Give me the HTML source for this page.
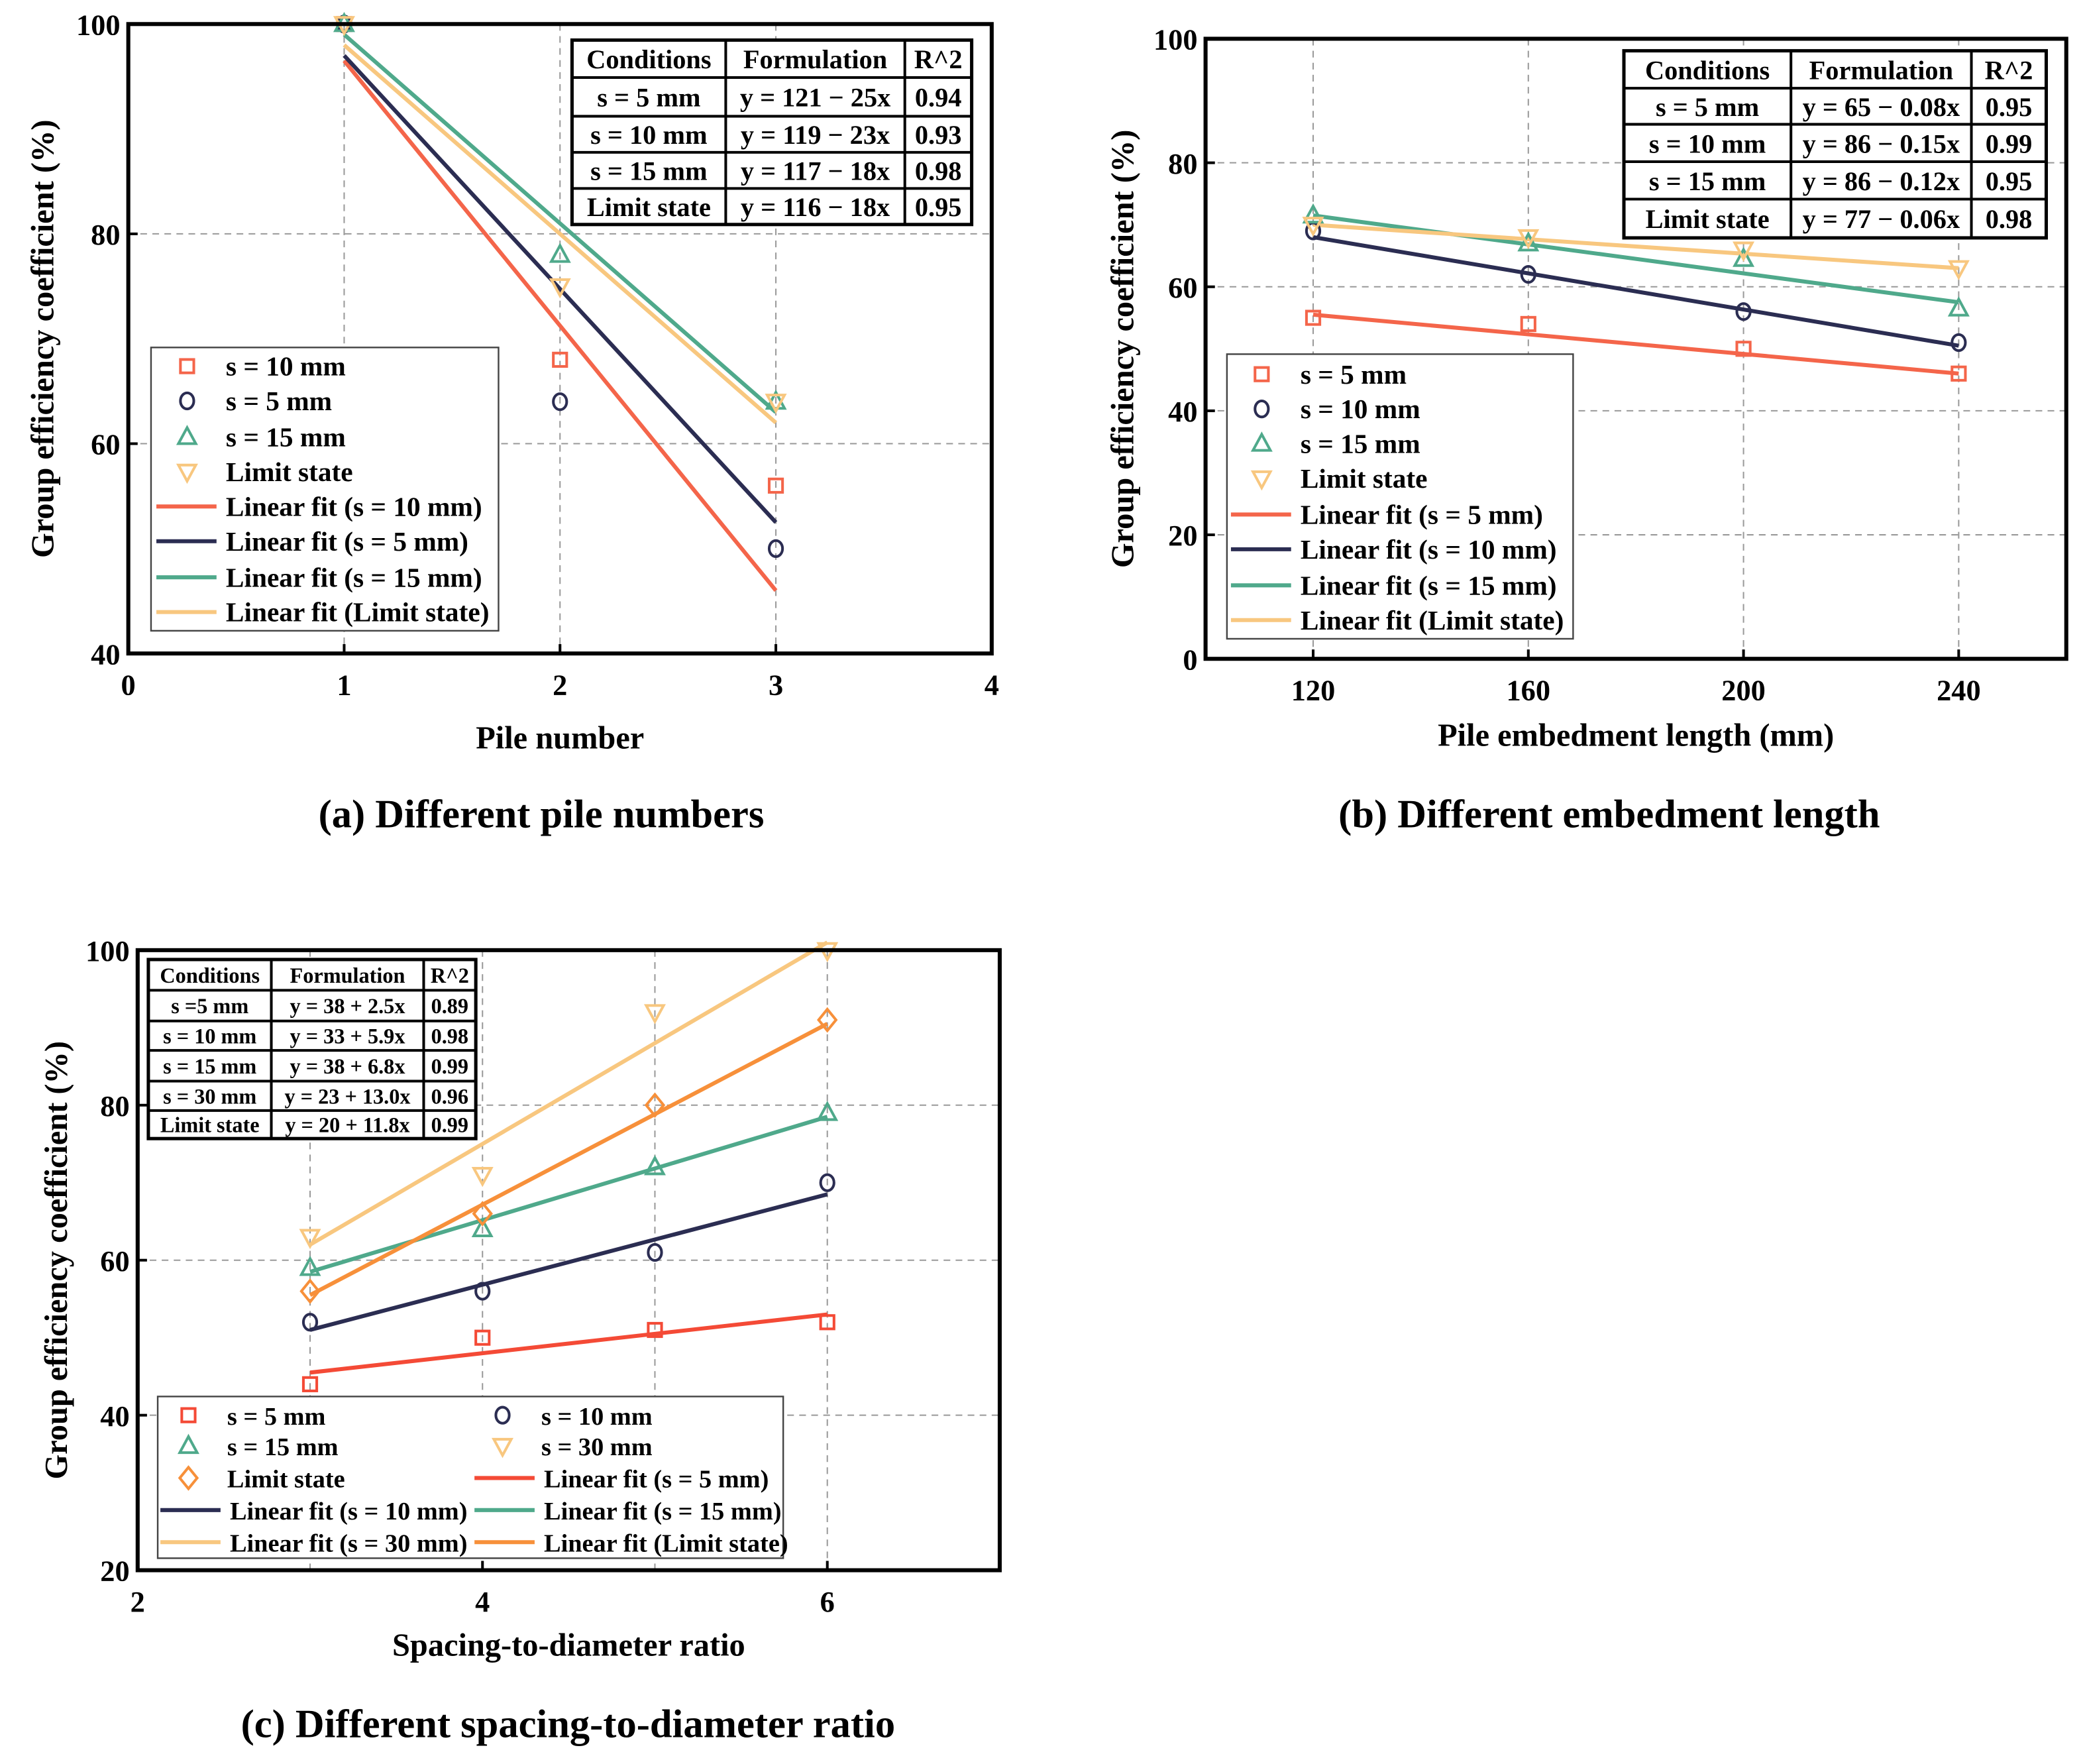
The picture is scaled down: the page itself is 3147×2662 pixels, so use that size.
<!DOCTYPE html>
<html><head><meta charset="utf-8"><style>
html,body{margin:0;padding:0;background:#fff}
svg{display:block}
text{font-family:"Liberation Serif",serif;font-weight:bold;fill:#000}
</style></head><body>
<svg id="fig" width="3147" height="2662" viewBox="0 0 1560 1320" preserveAspectRatio="none" xmlns="http://www.w3.org/2000/svg"></svg>
<script>
// ---------- Panel (a) data ----------
const aX = [1, 2, 3];
const aS10 = [100, 68, 56];
const aS5 = [100, 64, 50];
const aS15 = [100, 78, 64];
const aLim = [100, 75, 64];
const aFitS10 = [96.5, 46];
const aFitS5 = [97, 52.5];
const aFitS15 = [99, 63];
const aFitLim = [98, 62];
const aXTicks = [0, 1, 2, 3, 4];
const aYTicks = [40, 60, 80, 100];
// ---------- Panel (b) data ----------
const bX = [120, 160, 200, 240];
const bS5 = [55, 54, 50, 46];
const bS10 = [69, 62, 56, 51];
const bS15 = [71.5, 67, 64.5, 56.5];
const bLim = [70, 68, 66, 63];
const bFitS5 = [55.5, 46];
const bFitS10 = [68, 50.5];
const bFitS15 = [71.5, 57.5];
const bFitLim = [70, 63];
const bXTicks = [120, 160, 200, 240];
const bYTicks = [0, 20, 40, 60, 80, 100];
// ---------- Panel (c) data ----------
const cX = [3, 4, 5, 6];
const cS5 = [44, 50, 51, 52];
const cS10 = [52, 56, 61, 70];
const cS15 = [59, 64, 72, 79];
const cS30 = [63, 71, 92, 100];
const cLim = [56, 66, 80, 91];
const cFitS5 = [45.5, 53];
const cFitS10 = [51, 68.5];
const cFitS15 = [58.5, 78.5];
const cFitS30 = [62, 101];
const cFitLim = [55.5, 90.5];
const cXTicks = [2, 4, 6];
const cYTicks = [20, 40, 60, 80, 100];

const RED='#f4654a', NAVY='#2b2d52', GREEN='#4fa98b', YEL='#f8c77f', ORG='#f7903a';
const NS='http://www.w3.org/2000/svg';
const svg=document.getElementById('fig');

function mk(parent, tag, attrs, name){
  const el=document.createElementNS(NS,tag);
  for(const k in attrs) el.setAttribute(k,attrs[k]);
  
  
  parent.appendChild(el);
  return el;
}
function txt(parent,x,y,s,size,name,anchor,extra){
  const t=mk(parent,'text',Object.assign({x:x,y:y,'font-size':size,'text-anchor':anchor||'start'},extra||{}),name);
  t.textContent=s; return t;
}
function marker(g,type,x,y,color,name){
  const a={fill:'none',stroke:color,'stroke-width':2};
  if(type==='sq') return mk(g,'rect',Object.assign({x:x-5,y:y-5,width:10,height:10},a),name);
  if(type==='ci') return mk(g,'ellipse',Object.assign({cx:x,cy:y,rx:5,ry:6},a),name);
  if(type==='tu') return mk(g,'polygon',Object.assign({points:`${x},${y-7} ${x-6.5},${y+5} ${x+6.5},${y+5}`},a),name);
  if(type==='td') return mk(g,'polygon',Object.assign({points:`${x},${y+7} ${x-6.5},${y-5} ${x+6.5},${y-5}`},a),name);
  if(type==='di') return mk(g,'polygon',Object.assign({points:`${x},${y-8} ${x+6.5},${y} ${x},${y+8} ${x-6.5},${y}`},a),name);
}

function panel(cfg){
  const g=mk(svg,'g',{},cfg.id);
  const {x0,x1,y0,y1}=cfg.box;
  const sx=v=>x0+(v-cfg.xd[0])/(cfg.xd[1]-cfg.xd[0])*(x1-x0);
  const sy=v=>y1-(v-cfg.yd[0])/(cfg.yd[1]-cfg.yd[0])*(y1-y0);
  cfg.xGrid.forEach(v=>mk(g,'line',{x1:sx(v),x2:sx(v),y1:y0,y2:y1,stroke:'#999','stroke-width':1,'stroke-dasharray':'5,4'},'x-gridline'));
  cfg.yGrid.forEach(v=>mk(g,'line',{x1:x0,x2:x1,y1:sy(v),y2:sy(v),stroke:'#999','stroke-width':1,'stroke-dasharray':'5,4'},'y-gridline'));
  cfg.fits.forEach(f=>mk(g,'line',{x1:sx(f.xs[0]),x2:sx(f.xs[1]),y1:sy(f.v[0]),y2:sy(f.v[1]),stroke:f.c,'stroke-width':3},f.name));
  cfg.series.forEach(s=>s.v.forEach((v,i)=>marker(g,s.m,sx(cfg.x[i]),sy(v),s.c,s.name+'-point')));
  mk(g,'rect',{x:x0,y:y0,width:x1-x0,height:y1-y0,fill:'none',stroke:'#000','stroke-width':3},'plot-frame');
  cfg.xt.forEach(v=>{mk(g,'line',{x1:sx(v),x2:sx(v),y1:y1,y2:y1-7,stroke:'#000','stroke-width':2},'x-tick');
    txt(g,sx(v),y1+31,String(v),22,'x-tick-label','middle');});
  cfg.yt.forEach(v=>{mk(g,'line',{x1:x0,x2:x0+7,y1:sy(v),y2:sy(v),stroke:'#000','stroke-width':2},'y-tick');
    txt(g,x0-6,sy(v)+8,String(v),22,'y-tick-label','end');});
  txt(g,(x0+x1)/2,cfg.xlY,cfg.xl,24,'x-axis-title','middle');
  txt(g,cfg.ylX,(y0+y1)/2,'Group efficiency coefficient (%)',24,'y-axis-title','middle',{transform:`rotate(-90 ${cfg.ylX} ${(y0+y1)/2})`});
  txt(g,cfg.titleX,cfg.titleY,cfg.title,30,'panel-title','middle');
  const T=cfg.table;
  mk(g,'rect',{x:T.cols[0],y:T.rows[0],width:T.cols[T.cols.length-1]-T.cols[0],height:T.rows[T.rows.length-1]-T.rows[0],fill:'#fff',stroke:'#000','stroke-width':2.5},'fit-table');
  T.cols.slice(1,-1).forEach(c=>mk(g,'line',{x1:c,x2:c,y1:T.rows[0],y2:T.rows[T.rows.length-1],stroke:'#000','stroke-width':2},'table-col-line'));
  T.rows.slice(1,-1).forEach(r=>mk(g,'line',{x1:T.cols[0],x2:T.cols[T.cols.length-1],y1:r,y2:r,stroke:'#000','stroke-width':2},'table-row-line'));
  T.cells.forEach((row,ri)=>row.forEach((s,ci)=>txt(g,(T.cols[ci]+T.cols[ci+1])/2,(T.rows[ri]+T.rows[ri+1])/2+T.fs*0.36,s,T.fs,'table-cell','middle')));
  const L=cfg.legend;
  mk(g,'rect',{x:L.x,y:L.y,width:L.w,height:L.h,fill:'#fff',stroke:'#444','stroke-width':1.2},'legend-box');
  L.items.forEach(it=>{
    if(it.m) marker(g,it.m,it.x+23,it.y,it.c,'legend-marker');
    else mk(g,'line',{x1:it.x,x2:it.x+45,y1:it.y,y2:it.y,stroke:it.c,'stroke-width':3},'legend-line');
    txt(g,it.x+52,it.y+7,it.t,L.fs,'legend-entry');
  });
}

panel({id:'panel-a',box:{x0:96,x1:742,y0:18,y1:489},xd:[0,4],yd:[40,100],x:aX,
  xGrid:[1,2,3],yGrid:[60,80],xt:aXTicks,yt:aYTicks,xl:'Pile number',xlY:560,ylX:40,
  title:'(a) Different pile numbers',titleX:405,titleY:619,
  fits:[{xs:[1,3],v:aFitS10,c:RED,name:'fit-s10'},{xs:[1,3],v:aFitS5,c:NAVY,name:'fit-s5'},{xs:[1,3],v:aFitS15,c:GREEN,name:'fit-s15'},{xs:[1,3],v:aFitLim,c:YEL,name:'fit-limit'}],
  series:[{v:aS10,m:'sq',c:RED,name:'s10'},{v:aS5,m:'ci',c:NAVY,name:'s5'},{v:aS15,m:'tu',c:GREEN,name:'s15'},{v:aLim,m:'td',c:YEL,name:'limit'}],
  table:{cols:[428,543,677,727],rows:[30,58,87,114,141,168],fs:20,cells:[['Conditions','Formulation','R^2'],['s = 5 mm','y = 121 − 25x','0.94'],['s = 10 mm','y = 119 − 23x','0.93'],['s = 15 mm','y = 117 − 18x','0.98'],['Limit state','y = 116 − 18x','0.95']]},
  legend:{x:113,y:260,w:260,h:212,fs:20.5,items:[
    {x:117,y:274,m:'sq',c:RED,t:'s = 10 mm'},{x:117,y:300,m:'ci',c:NAVY,t:'s = 5 mm'},{x:117,y:327,m:'tu',c:GREEN,t:'s = 15 mm'},{x:117,y:353,m:'td',c:YEL,t:'Limit state'},
    {x:117,y:379,c:RED,t:'Linear fit (s = 10 mm)'},{x:117,y:405,c:NAVY,t:'Linear fit (s = 5 mm)'},{x:117,y:432,c:GREEN,t:'Linear fit (s = 15 mm)'},{x:117,y:458,c:YEL,t:'Linear fit (Limit state)'}]}
});
panel({id:'panel-b',box:{x0:902,x1:1546,y0:29,y1:493},xd:[100,260],yd:[0,100],x:bX,
  xGrid:[120,160,200,240],yGrid:[20,40,60,80],xt:bXTicks,yt:bYTicks,xl:'Pile embedment length (mm)',xlY:558,ylX:848,
  title:'(b) Different embedment length',titleX:1204,titleY:619,
  fits:[{xs:[120,240],v:bFitS5,c:RED,name:'fit-s5'},{xs:[120,240],v:bFitS10,c:NAVY,name:'fit-s10'},{xs:[120,240],v:bFitS15,c:GREEN,name:'fit-s15'},{xs:[120,240],v:bFitLim,c:YEL,name:'fit-limit'}],
  series:[{v:bS5,m:'sq',c:RED,name:'s5'},{v:bS10,m:'ci',c:NAVY,name:'s10'},{v:bS15,m:'tu',c:GREEN,name:'s15'},{v:bLim,m:'td',c:YEL,name:'limit'}],
  table:{cols:[1215,1340,1475,1531],rows:[38,66,93,121,149,178],fs:20,cells:[['Conditions','Formulation','R^2'],['s = 5 mm','y = 65 − 0.08x','0.95'],['s = 10 mm','y = 86 − 0.15x','0.99'],['s = 15 mm','y = 86 − 0.12x','0.95'],['Limit state','y = 77 − 0.06x','0.98']]},
  legend:{x:918,y:265,w:259,h:213,fs:20.5,items:[
    {x:921,y:280,m:'sq',c:RED,t:'s = 5 mm'},{x:921,y:306,m:'ci',c:NAVY,t:'s = 10 mm'},{x:921,y:332,m:'tu',c:GREEN,t:'s = 15 mm'},{x:921,y:358,m:'td',c:YEL,t:'Limit state'},
    {x:921,y:385,c:RED,t:'Linear fit (s = 5 mm)'},{x:921,y:411,c:NAVY,t:'Linear fit (s = 10 mm)'},{x:921,y:438,c:GREEN,t:'Linear fit (s = 15 mm)'},{x:921,y:464,c:YEL,t:'Linear fit (Limit state)'}]}
});
panel({id:'panel-c',box:{x0:103,x1:748,y0:711,y1:1175},xd:[2,7],yd:[20,100],x:cX,
  xGrid:[3,4,5,6],yGrid:[40,60,80],xt:cXTicks,yt:cYTicks,xl:'Spacing-to-diameter ratio',xlY:1239,ylX:50,
  title:'(c) Different spacing-to-diameter ratio',titleX:425,titleY:1300,
  fits:[{xs:[3,6],v:cFitS5,c:'#f44a36',name:'fit-s5'},{xs:[3,6],v:cFitS10,c:NAVY,name:'fit-s10'},{xs:[3,6],v:cFitS15,c:GREEN,name:'fit-s15'},{xs:[3,6],v:cFitS30,c:YEL,name:'fit-s30'},{xs:[3,6],v:cFitLim,c:ORG,name:'fit-limit'}],
  series:[{v:cS5,m:'sq',c:'#f44a36',name:'s5'},{v:cS10,m:'ci',c:NAVY,name:'s10'},{v:cS15,m:'tu',c:GREEN,name:'s15'},{v:cS30,m:'td',c:YEL,name:'s30'},{v:cLim,m:'di',c:ORG,name:'limit'}],
  table:{cols:[111,203,317,356],rows:[718,741,764,786,809,831,852],fs:16,cells:[['Conditions','Formulation','R^2'],['s =5 mm','y = 38 + 2.5x','0.89'],['s = 10 mm','y = 33 + 5.9x','0.98'],['s = 15 mm','y = 38 + 6.8x','0.99'],['s = 30 mm','y = 23 + 13.0x','0.96'],['Limit state','y = 20 + 11.8x','0.99']]},
  legend:{x:118,y:1045,w:468,h:121,fs:19,items:[
    {x:118,y:1059,m:'sq',c:'#f44a36',t:'s = 5 mm'},{x:353,y:1059,m:'ci',c:NAVY,t:'s = 10 mm'},
    {x:118,y:1082,m:'tu',c:GREEN,t:'s = 15 mm'},{x:353,y:1082,m:'td',c:YEL,t:'s = 30 mm'},
    {x:118,y:1106,m:'di',c:ORG,t:'Limit state'},{x:355,y:1106,c:'#f44a36',t:'Linear fit (s = 5 mm)'},
    {x:120,y:1130,c:NAVY,t:'Linear fit (s = 10 mm)'},{x:355,y:1130,c:GREEN,t:'Linear fit (s = 15 mm)'},
    {x:120,y:1154,c:YEL,t:'Linear fit (s = 30 mm)'},{x:355,y:1154,c:ORG,t:'Linear fit (Limit state)'}]}
});
</script>
</body></html>
